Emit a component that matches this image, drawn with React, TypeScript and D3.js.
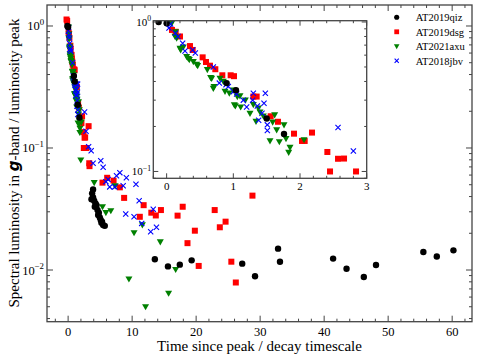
import React from 'react';
import * as d3 from 'd3';

// AT2019qiz
const qizT = [-0.12, 0.0, 0.9, 1.04, 1.5, 1.76, 3.65, 3.75, 3.9, 3.9, 4.07, 4.17, 4.28, 4.43, 4.59, 4.69, 4.8, 4.95, 5.1, 5.2, 5.3, 5.47, 5.73, 13.55, 15.6, 17.45, 19.3, 27.2, 29.2, 32.8, 33.1, 41.4, 43.5, 46.2, 48.1, 55.5, 57.6, 60.2];
const qizL = [1.0, 0.98, 0.39, 0.35, 0.226, 0.178, 0.038, 0.0425, 0.0458, 0.0394, 0.037, 0.033, 0.0352, 0.034, 0.031, 0.0282, 0.0295, 0.027, 0.0257, 0.0244, 0.0249, 0.0234, 0.023, 0.01225, 0.0107, 0.01106, 0.012, 0.01127, 0.00888, 0.01496, 0.0117, 0.0124, 0.01025, 0.00877, 0.011, 0.01406, 0.0129, 0.01449];

// AT2019dsg
const dsgT = [-0.25, -0.15, 0.08, 0.135, 0.2, 0.35, 0.39, 0.54, 0.59, 0.65, 0.73, 0.835, 0.96, 1.01, 1.3, 1.35, 1.56, 1.67, 1.91, 2.03, 2.07, 2.18, 2.41, 2.45, 2.57, 2.66, 2.84, 3.2, 3.3, 3.34, 5.37, 6.1, 7.1, 8.08, 8.75, 11.2, 11.8, 13.0, 13.7, 14.5, 17.1, 17.9, 18.65, 19.8, 20.4, 22.9, 23.7, 24.6, 25.5, 26.2, 28.8];
const dsgL = [1.13, 1.1, 0.885, 0.86, 0.8, 0.69, 0.65, 0.58, 0.54, 0.51, 0.483, 0.44, 0.44, 0.434, 0.317, 0.317, 0.234, 0.215, 0.179, 0.16, 0.16, 0.182, 0.135, 0.1, 0.1216, 0.122, 0.1, 0.151, 0.075, 0.071, 0.052, 0.057, 0.054, 0.0476, 0.039, 0.0273, 0.034, 0.0295, 0.028, 0.031, 0.0279, 0.033, 0.0166, 0.021, 0.0108, 0.031, 0.0224, 0.0249, 0.0117, 0.0079, 0.0407];

// AT2021axu
const axuT = [0.075, 0.125, 0.135, 0.15, 0.2, 0.21, 0.25, 0.3, 0.325, 0.34, 0.4, 0.45, 0.465, 0.61, 0.66, 0.675, 0.7, 0.71, 0.8, 0.85, 0.875, 0.94, 1.0, 1.015, 1.03, 1.06, 1.1, 1.11, 1.18, 1.25, 1.3, 1.34, 1.375, 1.4, 1.45, 1.55, 1.59, 1.62, 1.65, 1.69, 1.76, 1.79, 1.83, 1.85, 2.06, 1.98, 4.07, 5.37, 5.9, 6.67, 7.35, 9.5, 10.3, 11.6, 12.1, 14.4, 15.7, 16.8];
const axuL = [0.98, 0.8, 0.86, 0.78, 0.667, 0.65, 0.68, 0.587, 0.57, 0.56, 0.543, 0.52, 0.51, 0.48, 0.425, 0.42, 0.36, 0.37, 0.42, 0.4, 0.343, 0.334, 0.35, 0.279, 0.275, 0.317, 0.32, 0.27, 0.3, 0.245, 0.28, 0.216, 0.265, 0.25, 0.235, 0.16, 0.214, 0.239, 0.19, 0.158, 0.205, 0.166, 0.134, 0.145, 0.163, 0.0797, 0.052, 0.033, 0.0295, 0.0306, 0.049, 0.00844, 0.0202, 0.0234, 0.005, 0.017, 0.00645, 0.0101];

// AT2018jbv
const jbvT = [0.035, 0.06, 0.13, 0.17, 0.24, 0.275, 0.39, 0.43, 0.7, 0.79, 0.89, 0.925, 1.0, 1.05, 1.15, 1.2, 1.3, 1.29, 1.36, 1.38, 1.43, 1.46, 1.48, 1.51, 1.51, 2.57, 2.8, 3.2, 3.6, 3.9, 5.1, 5.47, 5.9, 6.25, 6.5, 7.3, 7.56, 8.08, 8.6, 9.1, 9.0, 10.3, 10.6, 11.1, 11.5, 12.9, 13.3, 13.8];
const jbvL = [0.91, 0.97, 0.84, 0.8, 0.72, 0.64, 0.65, 0.62, 0.5, 0.39, 0.38, 0.37, 0.342, 0.33, 0.3, 0.27, 0.334, 0.3, 0.274, 0.22, 0.245, 0.286, 0.334, 0.205, 0.188, 0.197, 0.137, 0.1026, 0.095, 0.075, 0.0787, 0.0695, 0.053, 0.0553, 0.048, 0.048, 0.0593, 0.0628, 0.049, 0.057, 0.0288, 0.0273, 0.0504, 0.037, 0.0241, 0.0206, 0.0315, 0.0224];

const legendNames = ['AT2019qiz', 'AT2019dsg', 'AT2021axu', 'AT2018jbv'];
const mainXTicks = [0, 10, 20, 30, 40, 50, 60];
const mainYTicks = [0.01, 0.1, 1];
const insetXTicks = [0, 1, 2, 3];
const insetYTicks = [0.1, 1];

const series = [
  { name: 'AT2019dsg', kind: 'square', color: '#ff0000', t: dsgT, l: dsgL },
  { name: 'AT2021axu', kind: 'tri', color: '#008000', t: axuT, l: axuL },
  { name: 'AT2018jbv', kind: 'x', color: '#0000ff', t: jbvT, l: jbvL },
  { name: 'AT2019qiz', kind: 'circle', color: '#000000', t: qizT, l: qizL },
];

const FONT = 'Liberation Serif, Times New Roman, serif';
const FRAME = '#444';

function Marker({ kind, color, x, y, s = 1 }) {
  if (kind === 'circle') return <circle cx={x} cy={y} r={3.2 * s} fill={color} />;
  if (kind === 'square') return <rect x={x - 3 * s} y={y - 3 * s} width={6 * s} height={6 * s} fill={color} />;
  if (kind === 'tri')
    return <path d={`M${x - 3.5 * s},${y - 2.6 * s}L${x + 3.5 * s},${y - 2.6 * s}L${x},${y + 3.6 * s}Z`} fill={color} />;
  return (
    <path d={`M${x - 2.6 * s},${y - 2.6 * s}L${x + 2.6 * s},${y + 2.6 * s}M${x - 2.6 * s},${y + 2.6 * s}L${x + 2.6 * s},${y - 2.6 * s}`}
      stroke={color} strokeWidth={1.1} fill="none" />
  );
}

function logMinors(domain) {
  const out = [];
  const lo = Math.floor(Math.log10(domain[0]));
  const hi = Math.ceil(Math.log10(domain[1]));
  for (let d = lo; d <= hi; d++) {
    for (let m = 2; m <= 9; m++) {
      const v = m * Math.pow(10, d);
      if (v >= domain[0] && v <= domain[1]) out.push(v);
    }
  }
  return out;
}

function linMinors(domain, step) {
  const out = [];
  const start = Math.ceil(domain[0] / step - 1e-9);
  for (let i = start; i * step <= domain[1] + 1e-9; i++) out.push(+(i * step).toFixed(6));
  return out;
}

function Pow10({ x, y, v, size, anchor = 'end' }) {
  const e = Math.round(Math.log10(v));
  return (
    <text x={x} y={y} fontSize={size} textAnchor={anchor} fontFamily={FONT}>
      10<tspan dy={-size * 0.42} fontSize={size * 0.7}>{e < 0 ? '\u2212' + -e : e}</tspan>
    </text>
  );
}

function Frame({ x, y, xMajor, xMinor, yMajor, yMinor, id, major = 6, minor = 3 }) {
  const [x0, x1] = x.range();
  const [y0, y1] = y.range();
  const ticks = [];
  xMajor.forEach((v, i) => {
    const px = x(v);
    ticks.push(<line key={`xb${id}${i}`} x1={px} x2={px} y1={y0} y2={y0 - major} />);
    ticks.push(<line key={`xt${id}${i}`} x1={px} x2={px} y1={y1} y2={y1 + major} />);
  });
  xMinor.forEach((v, i) => {
    const px = x(v);
    ticks.push(<line key={`xmb${id}${i}`} x1={px} x2={px} y1={y0} y2={y0 - minor} />);
    ticks.push(<line key={`xmt${id}${i}`} x1={px} x2={px} y1={y1} y2={y1 + minor} />);
  });
  yMajor.forEach((v, i) => {
    const py = y(v);
    ticks.push(<line key={`yl${id}${i}`} x1={x0} x2={x0 + major} y1={py} y2={py} />);
    ticks.push(<line key={`yr${id}${i}`} x1={x1} x2={x1 - major} y1={py} y2={py} />);
  });
  yMinor.forEach((v, i) => {
    const py = y(v);
    ticks.push(<line key={`yml${id}${i}`} x1={x0} x2={x0 + minor} y1={py} y2={py} />);
    ticks.push(<line key={`ymr${id}${i}`} x1={x1} x2={x1 - minor} y1={py} y2={py} />);
  });
  return (
    <g stroke={FRAME} strokeWidth={1}>
      {ticks}
      <rect x={x0} y={y1} width={x1 - x0} height={y0 - y1} fill="none" strokeWidth={1.3} />
    </g>
  );
}

export default function App() {
  const W = 478, H = 357;
  const x = d3.scaleLinear().domain([-3.3, 63.1]).range([47, 472]);
  const y = d3.scaleLog().domain([0.00377, 1.486]).range([321.7, 5]);
  const ix = d3.scaleLinear().domain([-0.2, 3]).range([153.3, 366.7]);
  const iy = d3.scaleLog().domain([0.09, 1.02]).range([178.3, 20.7]);

  const points = (sx, sy) =>
    series.map((s) => (
      <g key={s.name}>
        {s.t.map((t, i) => (
          <Marker key={i} kind={s.kind} color={s.color} x={sx(t)} y={sy(s.l[i])} />
        ))}
      </g>
    ));

  const legend = legendNames.map((n) => series.find((s) => s.name === n));

  return (
    <svg width={W} height={H} style={{ position: 'absolute', left: 0, top: 0 }}>
      <defs>
        <clipPath id="mainClip"><rect x={47} y={5} width={425} height={316.7} /></clipPath>
        <clipPath id="insetClip"><rect x={153.3} y={20.7} width={213.4} height={157.6} /></clipPath>
      </defs>
      <rect width={W} height={H} fill="#fff" />
      <g clipPath="url(#mainClip)">{points(x, y)}</g>
      <Frame id="m" x={x} y={y} xMajor={mainXTicks} xMinor={linMinors(x.domain(), 2).filter((v) => v % 10 !== 0)}
        yMajor={mainYTicks} yMinor={logMinors(y.domain())} />
      {mainXTicks.map((v) => (
        <text key={v} x={x(v)} y={336} fontSize={12.5} textAnchor="middle" fontFamily={FONT}>{v}</text>
      ))}
      {mainYTicks.map((v) => (
        <Pow10 key={v} x={44} y={y(v) + 4.5} v={v} size={12.5} />
      ))}
      <text x={259.5} y={351} fontSize={15} textAnchor="middle" fontFamily={FONT}>Time since peak / decay timescale</text>
      <text transform={`translate(19,163) rotate(-90)`} fontSize={15} textAnchor="middle" fontFamily={FONT}>
        Spectral luminosity in <tspan fontFamily="DejaVu Sans" fontStyle="italic" fontWeight="bold" fontSize={15}>g</tspan>-band / luminosity peak
      </text>

      {/* inset */}
      <rect x={153.3} y={20.7} width={213.4} height={157.6} fill="#fff" />
      <g clipPath="url(#insetClip)">{points(ix, iy)}</g>
      <Frame id="i" x={ix} y={iy} xMajor={insetXTicks} xMinor={linMinors(ix.domain(), 0.2).filter((v) => Math.abs(v - Math.round(v)) > 1e-6)}
        yMajor={insetYTicks} yMinor={logMinors(iy.domain())} major={5} minor={2.5} />
      {insetXTicks.map((v) => (
        <text key={v} x={ix(v)} y={190} fontSize={11} textAnchor="middle" fontFamily={FONT}>{v}</text>
      ))}
      {insetYTicks.map((v) => (
        <Pow10 key={v} x={151} y={iy(v) + 4} v={v} size={11} />
      ))}

      {/* legend */}
      {legend.map((s, i) => (
        <g key={s.name}>
          <Marker kind={s.kind} color={s.color} x={396.7} y={17.3 + i * 14.5} s={0.8} />
          <text x={415.7} y={21 + i * 14.5} fontSize={10.5} fontFamily={FONT}>{s.name}</text>
        </g>
      ))}
    </svg>
  );
}
